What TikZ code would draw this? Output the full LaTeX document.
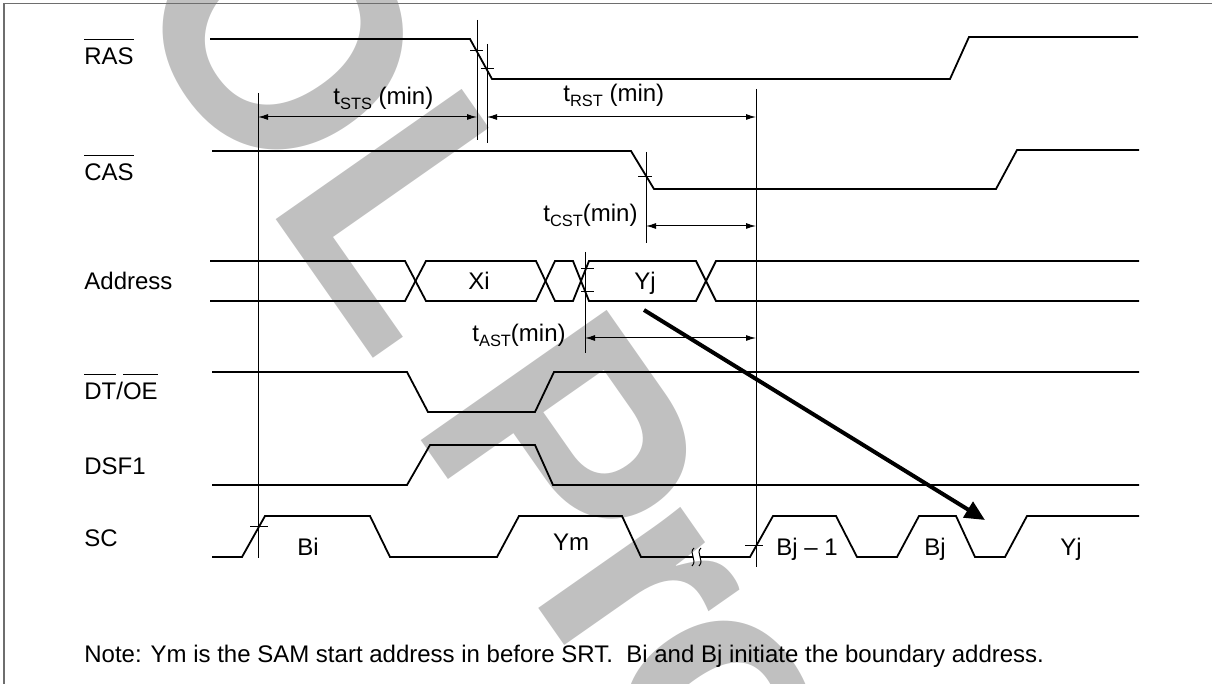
\documentclass[tikz,border=0pt]{standalone}
\usepackage{fontspec}
\setmainfont{Liberation Sans}
\usetikzlibrary{arrows.meta}
\definecolor{wm}{RGB}{192,192,192}
\definecolor{framegray}{RGB}{110,110,110}
\newcommand\barred[1]{\setbox0\hbox{#1}\rlap{\raisebox{\dimexpr\ht0+4pt\relax}{\rule{\wd0}{0.6pt}}}\box0}
\newcommand\tsb[1]{t\raisebox{-2.5pt}{\fontsize{8.2}{9}\selectfont #1}}
\begin{document}
\begin{tikzpicture}[x=0.5pt,y=-0.5pt,
  sig/.style={line width=0.9pt,line join=miter},
  refl/.style={line width=0.5pt},
  dim/.style={line width=0.5pt,{Latex[length=5pt,width=3pt]}-{Latex[length=5pt,width=3pt]}},
  tk/.style={line width=0.5pt},
  lbl/.style={font=\fontsize{12}{14}\selectfont,inner sep=0pt,anchor=base west},
  clbl/.style={font=\fontsize{12}{14}\selectfont,inner sep=0pt,anchor=base},
  wmtext/.style={anchor=base west, rotate=-55, inner sep=0pt, text=wm,
    font=\fontsize{165}{165}\selectfont\bfseries}]
\useasboundingbox (0,0) rectangle (1212,684);
% watermark
\begin{scope}
\clip (0,0) rectangle (1212,684);
\node[wmtext] (wm1) at (-10,-189) {EOL};
\node[wmtext] (wm2) at (408,422) {\addfontfeature{LetterSpace=-5}Product};
\end{scope}
% frame
\draw[framegray,line width=0.8pt] (1212,3.5) -- (4,3.5) -- (4,684);
% signal names
\node[lbl] (nras) at (84,65) {\barred{RAS}};
\node[lbl] (ncas) at (84,181) {\barred{CAS}};
\node[lbl] (naddr) at (84,290) {Address};
\node[lbl] (ndt) at (84,400) {\barred{DT}/\barred{OE}};
\node[lbl] (ndsf) at (84,475) {DSF1};
\node[lbl] (nsc) at (84,546) {SC};
% waveforms
\draw[sig] (210,39) -- (470,39) -- (492,79) -- (950,79) -- (969,37) -- (1138,37);
\draw[sig] (212,151) -- (631,151) -- (654,189) -- (996,189) -- (1017,150) -- (1139,150);
\draw[sig] (210,261) -- (405,261) -- (426,301) -- (536,301) -- (555,261) -- (573,261) -- (589,301) -- (696,301) -- (716,261) -- (1139,261);
\draw[sig] (210,301) -- (405,301) -- (426,261) -- (536,261) -- (555,301) -- (573,301) -- (589,261) -- (696,261) -- (716,301) -- (1139,301);
\draw[sig] (212,372) -- (407,372) -- (428,412) -- (535,412) -- (554,372) -- (1139,372);
\draw[sig] (212,485) -- (407,485) -- (430,445) -- (535,445) -- (553,485) -- (1139,485);
\draw[sig] (212,557) -- (242,557) -- (265,516) -- (370,516) -- (390,557) -- (497,557) -- (519,516) -- (622,516) -- (641,557) -- (693,557);
\draw[sig] (700,557) -- (750,557) -- (773,516) -- (836,516) -- (857,557) -- (897,557) -- (919,516) -- (956,516) -- (975,557) -- (1005,557) -- (1027,516) -- (1139,516);
% break marks
\draw[refl] (694,548) .. controls (688,553) and (698,560) .. (692,566);
\draw[refl] (701,548) .. controls (695,553) and (705,560) .. (699,566);
% reference lines
\coordinate (v1t) at (258,93);  \coordinate (v1b) at (258,558);
\coordinate (v2t) at (477,20);  \coordinate (v2b) at (477,140);
\coordinate (v3t) at (487,44);  \coordinate (v3b) at (487,143);
\coordinate (v4t) at (756,89);  \coordinate (v4b) at (756,567);
\coordinate (v5t) at (646,152); \coordinate (v5b) at (646,243);
\coordinate (v6t) at (585,252); \coordinate (v6b) at (585,353);
\foreach \v in {1,...,6} \draw[refl] (v\v t) -- (v\v b);
% dimension arrows
\draw[dim] (258,117) -- (477,117);
\draw[dim] (487,117) -- (756,117);
\draw[dim] (646,226) -- (756,226);
\draw[dim] (585,338) -- (756,338);
% ticks
\draw[tk] (470,51) -- (483,51);
\draw[tk] (481,69) -- (494,69);
\draw[tk] (638,177) -- (652,177);
\draw[tk] (581,269) -- (594,269);
\draw[tk] (581,292) -- (594,292);
\draw[tk] (250,527) -- (268,527);
\draw[tk] (745,546) -- (763,546);
% timing labels
\node[lbl] (lsts) at (333,105) {\tsb{STS} (min)};
\node[lbl] (lrst) at (563,102) {\tsb{RST} (min)};
\node[lbl] (lcst) at (543,222) {\tsb{CST}(min)};
\node[lbl] (last) at (472,342) {\tsb{AST}(min)};
% bus / clock labels
\node[clbl] (lxi) at (479,290) {Xi};
\node[clbl] (lyj) at (645,290) {Yj};
\node[clbl] (lbi) at (308,556) {Bi};
\node[clbl] (lym) at (571,551) {Ym};
\node[lbl] (lbj1) at (776,556) {Bj -- 1};
\node[clbl] (lbj) at (935,556) {Bj};
\node[clbl] (lyj2) at (1071,556) {Yj};
% big arrow
\coordinate (as) at (644,310);
\coordinate (ae) at (985,520);
\draw[line width=2pt,-{Triangle[length=10pt,width=9pt]}] (as) -- (ae);
% note
\node[lbl] (note) at (84,662) {Note: Ym is the SAM start address in before SRT.\ \ Bi and Bj initiate the boundary address.};
\end{tikzpicture}
\end{document}
